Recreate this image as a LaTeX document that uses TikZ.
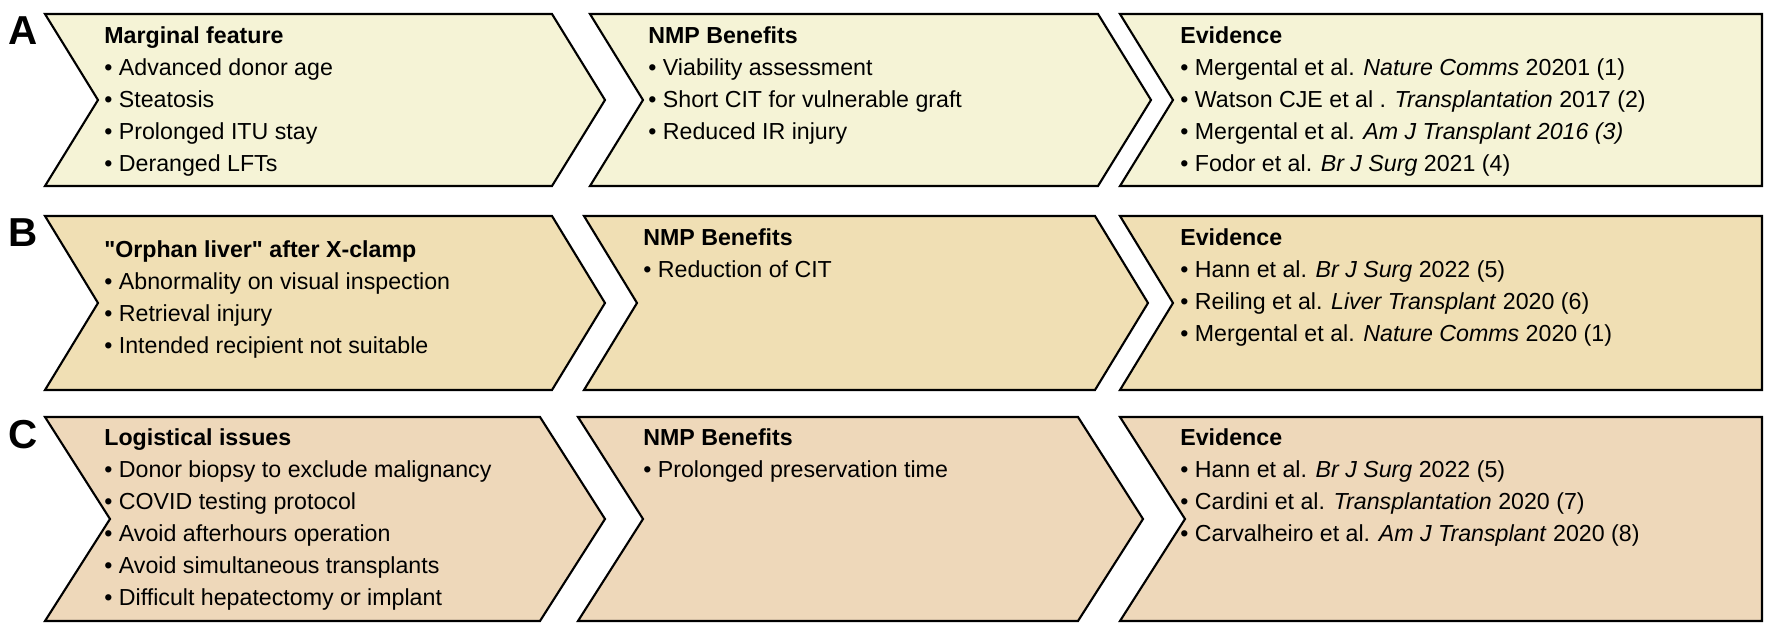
\documentclass[tikz,border=0pt]{standalone}
\usepackage{fontspec}
\setmainfont{Liberation Sans}
\newfontfamily\qfont{Liberation Sans}
\usetikzlibrary{positioning}
\definecolor{rowA}{RGB}{245,243,214}
\definecolor{rowB}{RGB}{240,223,180}
\definecolor{rowC}{RGB}{238,216,186}
\tikzset{
  chevline/.style={draw=black, line width=1.2pt, line join=miter},
  txt/.style={anchor=north west, align=left, inner sep=0pt,
    font=\fontsize{13.2}{18.2}\selectfont},
  rowlabel/.style={anchor=north west, inner sep=0pt, font=\fontsize{23}{23}\selectfont\bfseries}
}
% chevron: fill, left x, right x, top, bottom, depth
\newcommand{\chevshape}[6]{%
  \draw[chevline, fill=#1] (#2,#4) -- (#3,#4) -- ({#3+#6},{(#4+#5)/2}) -- (#3,#5)
    -- (#2,#5) -- ({#2+#6},{(#4+#5)/2}) -- cycle;}
\newcommand{\lastshape}[6]{%
  \draw[chevline, fill=#1] (#2,#4) -- (#3,#4) -- (#3,#5)
    -- (#2,#5) -- ({#2+#6},{(#4+#5)/2}) -- cycle;}
\newcommand{\itm}{\textbullet\ }
\newcommand{\sq}{{\qfont\bfseries "}}
\begin{document}
\begin{tikzpicture}[x=0.02cm,y=-0.02cm]
  \useasboundingbox (0,0) rectangle (1772,628);

  % row A
  \chevshape{rowA}{45}{552}{14}{186}{53}
  \chevshape{rowA}{590}{1098}{14}{186}{53}
  \lastshape{rowA}{1120}{1762}{14}{186}{53}
  % row B
  \chevshape{rowB}{45}{552}{216}{390}{53}
  \chevshape{rowB}{584}{1095}{216}{390}{53}
  \lastshape{rowB}{1120}{1762}{216}{390}{53}
  % row C
  \chevshape{rowC}{45}{540}{417}{621}{65}
  \chevshape{rowC}{578}{1078}{417}{621}{65}
  \lastshape{rowC}{1120}{1762}{417}{621}{65}

  \node[rowlabel] (labA) at (8,16) {A};
  \node[rowlabel] (labB) at (8,218) {B};
  \node[rowlabel] (labC) at (8,420) {C};

  \node[txt] (margA) at (104,26) {\textbf{Marginal feature}\\
    \itm Advanced donor age\\ \itm Steatosis\\ \itm Prolonged ITU stay\\ \itm Deranged LFTs};
  \node[txt] (benA) at (648,26) {\textbf{NMP Benefits}\\
    \itm Viability assessment\\ \itm Short CIT for vulnerable graft\\ \itm Reduced IR injury};
  \node[txt] (evA) at (1180,26) {\textbf{Evidence}\\
    \itm Mergental et al. \textit{Nature Comms} 20201 (1)\\
    \itm Watson CJE et al . \textit{Transplantation} 2017 (2)\\
    \itm Mergental et al. \textit{Am J Transplant 2016 (3)}\\
    \itm Fodor et al. \textit{Br J Surg} 2021 (4)};

  \node[txt] (orphB) at (104,240) {\textbf{\sq Orphan liver\sq\ after X-clamp}\\
    \itm Abnormality on visual inspection\\ \itm Retrieval injury\\ \itm Intended recipient not suitable};
  \node[txt] (benB) at (643,228) {\textbf{NMP Benefits}\\ \itm Reduction of CIT};
  \node[txt] (evB) at (1180,228) {\textbf{Evidence}\\
    \itm Hann et al. \textit{Br J Surg} 2022 (5)\\
    \itm Reiling et al. \textit{Liver Transplant} 2020 (6)\\
    \itm Mergental et al. \textit{Nature Comms} 2020 (1)};

  \node[txt] (logC) at (104,428) {\textbf{Logistical issues}\\
    \itm Donor biopsy to exclude malignancy\\ \itm COVID testing protocol\\
    \itm Avoid afterhours operation\\ \itm Avoid simultaneous transplants\\
    \itm Difficult hepatectomy or implant};
  \node[txt] (benC) at (643,428) {\textbf{NMP Benefits}\\ \itm Prolonged preservation time};
  \node[txt] (evC) at (1180,428) {\textbf{Evidence}\\
    \itm Hann et al. \textit{Br J Surg} 2022 (5)\\
    \itm Cardini et al. \textit{Transplantation} 2020 (7)\\
    \itm Carvalheiro et al. \textit{Am J Transplant} 2020 (8)};
\end{tikzpicture}
\end{document}
